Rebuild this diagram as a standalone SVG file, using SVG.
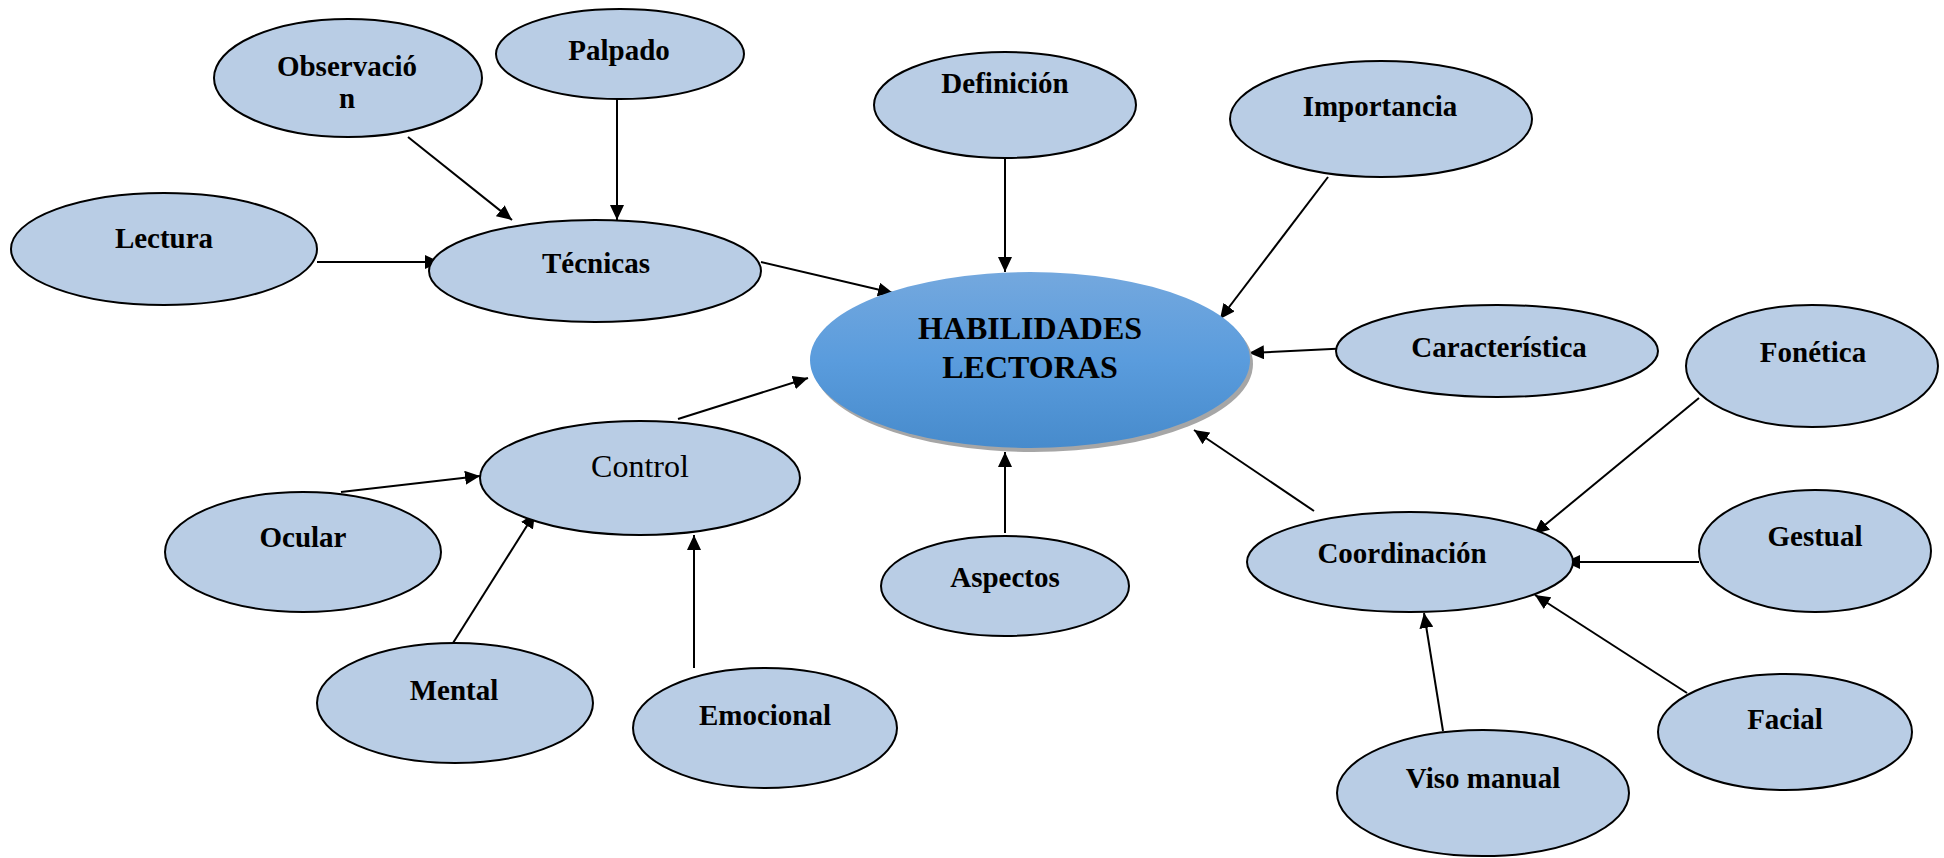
<svg xmlns="http://www.w3.org/2000/svg" width="1944" height="858" viewBox="0 0 1944 858">
<style>
.n{fill:#B9CDE5;stroke:#000;stroke-width:2}
.t{font-family:"Liberation Serif","Times New Roman",serif;font-weight:bold;font-size:29px;fill:#000;text-anchor:middle}
.r{font-weight:normal;font-size:32px}
.c{font-size:32px}
.e{stroke:#000;stroke-width:2;fill:none;marker-end:url(#ah)}
</style>
<defs>
<marker id="ah" markerWidth="16" markerHeight="14" refX="15" refY="7" orient="auto" markerUnits="userSpaceOnUse">
<path d="M0,0 L15,7 L0,14 z" fill="#000"/>
</marker>
<linearGradient id="cg" x1="0" y1="0" x2="0" y2="1">
<stop offset="0" stop-color="#74A8DE"/>
<stop offset="0.5" stop-color="#5A9CDD"/>
<stop offset="1" stop-color="#478BCC"/>
</linearGradient>
</defs>
<rect width="1944" height="858" fill="#fff"/>
<g id="connectors">
<line class="e" x1="408" y1="137" x2="512" y2="220"/>
<line class="e" x1="617" y1="93" x2="617" y2="220"/>
<line class="e" x1="317" y1="262" x2="440" y2="262"/>
<line class="e" x1="761" y1="262" x2="893" y2="293"/>
<line class="e" x1="1005" y1="158" x2="1005" y2="272"/>
<line class="e" x1="1328" y1="177" x2="1220" y2="319"/>
<line class="e" x1="1352" y1="348" x2="1249" y2="353"/>
<line class="e" x1="678" y1="419" x2="808" y2="378"/>
<line class="e" x1="1005" y1="533" x2="1005" y2="452"/>
<line class="e" x1="1314" y1="511" x2="1194" y2="430"/>
<line class="e" x1="341" y1="492" x2="480" y2="476"/>
<line class="e" x1="453" y1="643" x2="535" y2="513"/>
<line class="e" x1="694" y1="668" x2="694" y2="535"/>
<line class="e" x1="1699" y1="398" x2="1534" y2="534"/>
<line class="e" x1="1699" y1="562" x2="1565" y2="562"/>
<line class="e" x1="1687" y1="693" x2="1535" y2="595"/>
<line class="e" x1="1443" y1="731" x2="1424" y2="613"/>
</g>
<g id="center">
<ellipse cx="1033" cy="364" rx="220" ry="88" fill="#A6A6A6"/>
<ellipse cx="1030" cy="360" rx="220" ry="88" fill="url(#cg)"/>
<text class="t c" x="1030" y="339">HABILIDADES</text>
<text class="t c" x="1030" y="378">LECTORAS</text>
</g>
<g id="observacion"><ellipse class="n" cx="348" cy="78" rx="134" ry="59"/><text class="t" x="347" y="76">Observació</text><text class="t" x="347" y="108">n</text></g>
<g id="palpado"><ellipse class="n" cx="620" cy="54" rx="124" ry="45"/><text class="t" x="619" y="60">Palpado</text></g>
<g id="lectura"><ellipse class="n" cx="164" cy="249" rx="153" ry="56"/><text class="t" x="164" y="248">Lectura</text></g>
<g id="tecnicas"><ellipse class="n" cx="595" cy="271" rx="166" ry="51"/><text class="t" x="596" y="273">Técnicas</text></g>
<g id="definicion"><ellipse class="n" cx="1005" cy="105" rx="131" ry="53"/><text class="t" x="1005" y="93">Definición</text></g>
<g id="importancia"><ellipse class="n" cx="1381" cy="119" rx="151" ry="58"/><text class="t" x="1380" y="116">Importancia</text></g>
<g id="caracteristica"><ellipse class="n" cx="1497" cy="351" rx="161" ry="46"/><text class="t" x="1499" y="357">Característica</text></g>
<g id="fonetica"><ellipse class="n" cx="1812" cy="366" rx="126" ry="61"/><text class="t" x="1813" y="362">Fonética</text></g>
<g id="control"><ellipse class="n" cx="640" cy="478" rx="160" ry="57"/><text class="t r" x="640" y="477">Control</text></g>
<g id="ocular"><ellipse class="n" cx="303" cy="552" rx="138" ry="60"/><text class="t" x="303" y="547">Ocular</text></g>
<g id="mental"><ellipse class="n" cx="455" cy="703" rx="138" ry="60"/><text class="t" x="454" y="700">Mental</text></g>
<g id="emocional"><ellipse class="n" cx="765" cy="728" rx="132" ry="60"/><text class="t" x="765" y="725">Emocional</text></g>
<g id="aspectos"><ellipse class="n" cx="1005" cy="586" rx="124" ry="50"/><text class="t" x="1005" y="587">Aspectos</text></g>
<g id="coordinacion"><ellipse class="n" cx="1410" cy="562" rx="163" ry="50"/><text class="t" x="1402" y="563">Coordinación</text></g>
<g id="gestual"><ellipse class="n" cx="1815" cy="551" rx="116" ry="61"/><text class="t" x="1815" y="546">Gestual</text></g>
<g id="facial"><ellipse class="n" cx="1785" cy="732" rx="127" ry="58"/><text class="t" x="1785" y="729">Facial</text></g>
<g id="visomanual"><ellipse class="n" cx="1483" cy="793" rx="146" ry="63"/><text class="t" x="1483" y="788">Viso manual</text></g>
</svg>
